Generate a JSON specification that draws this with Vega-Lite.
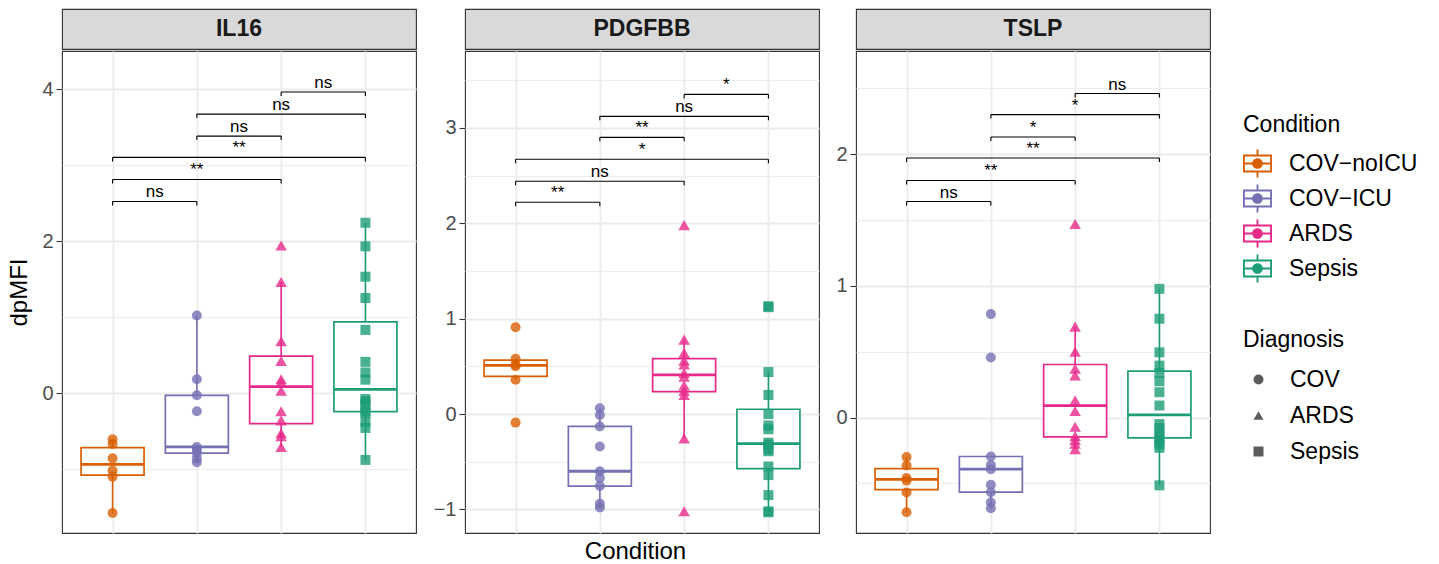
{
  "$schema": "https://vega.github.io/schema/vega-lite/v6.json",
  "padding": {"left": 7, "top": 8, "right": 5, "bottom": 5},
  "background": "white",
  "config": {
    "font": "Liberation Sans",
    "view": {"stroke": "#333333", "strokeWidth": 1.1},
    "axis": {"domain": false, "gridColor": "#EBEBEB", "gridWidth": 1.8, "labelColor": "#4D4D4D", "labelFontSize": 20, "tickColor": "#333333", "tickSize": 6, "tickWidth": 1.1, "labelPadding": 3, "labelOverlap": false, "titleFontSize": 24, "titleFontWeight": "normal", "titleColor": "#000000"},
    "legend": {"titleFontSize": 23, "titleFontWeight": "normal", "labelFontSize": 23, "titleColor": "#000000", "labelColor": "#000000"}
  },
  "datasets": {
    "pts": [
      {"m":"IL16","c":"COV-noICU","d":"COV","v":-0.61},{"m":"IL16","c":"COV-noICU","d":"COV","v":-0.67},{"m":"IL16","c":"COV-noICU","d":"COV","v":-0.86},{"m":"IL16","c":"COV-noICU","d":"COV","v":-1.02},{"m":"IL16","c":"COV-noICU","d":"COV","v":-1.10},{"m":"IL16","c":"COV-noICU","d":"COV","v":-1.58},
      {"m":"IL16","c":"COV-ICU","d":"COV","v":1.02},{"m":"IL16","c":"COV-ICU","d":"COV","v":0.18},{"m":"IL16","c":"COV-ICU","d":"COV","v":-0.03},{"m":"IL16","c":"COV-ICU","d":"COV","v":-0.24},{"m":"IL16","c":"COV-ICU","d":"COV","v":-0.71},{"m":"IL16","c":"COV-ICU","d":"COV","v":-0.745},{"m":"IL16","c":"COV-ICU","d":"COV","v":-0.79},{"m":"IL16","c":"COV-ICU","d":"COV","v":-0.86},{"m":"IL16","c":"COV-ICU","d":"COV","v":-0.91},
      {"m":"IL16","c":"ARDS","d":"ARDS","v":1.94},{"m":"IL16","c":"ARDS","d":"ARDS","v":1.46},{"m":"IL16","c":"ARDS","d":"ARDS","v":0.68},{"m":"IL16","c":"ARDS","d":"ARDS","v":0.42},{"m":"IL16","c":"ARDS","d":"ARDS","v":0.18},{"m":"IL16","c":"ARDS","d":"ARDS","v":0.14},{"m":"IL16","c":"ARDS","d":"ARDS","v":0.03},{"m":"IL16","c":"ARDS","d":"ARDS","v":-0.24},{"m":"IL16","c":"ARDS","d":"ARDS","v":-0.36},{"m":"IL16","c":"ARDS","d":"ARDS","v":-0.53},{"m":"IL16","c":"ARDS","d":"ARDS","v":-0.57},{"m":"IL16","c":"ARDS","d":"ARDS","v":-0.71},
      {"m":"IL16","c":"Sepsis","d":"Sepsis","v":2.24},{"m":"IL16","c":"Sepsis","d":"Sepsis","v":1.93},{"m":"IL16","c":"Sepsis","d":"Sepsis","v":1.53},{"m":"IL16","c":"Sepsis","d":"Sepsis","v":1.25},{"m":"IL16","c":"Sepsis","d":"Sepsis","v":0.83},{"m":"IL16","c":"Sepsis","d":"Sepsis","v":0.41},{"m":"IL16","c":"Sepsis","d":"Sepsis","v":0.27},{"m":"IL16","c":"Sepsis","d":"Sepsis","v":0.175},{"m":"IL16","c":"Sepsis","d":"Sepsis","v":-0.08},{"m":"IL16","c":"Sepsis","d":"Sepsis","v":-0.11},{"m":"IL16","c":"Sepsis","d":"Sepsis","v":-0.15},{"m":"IL16","c":"Sepsis","d":"Sepsis","v":-0.24},{"m":"IL16","c":"Sepsis","d":"Sepsis","v":-0.26},{"m":"IL16","c":"Sepsis","d":"Sepsis","v":-0.38},{"m":"IL16","c":"Sepsis","d":"Sepsis","v":-0.46},{"m":"IL16","c":"Sepsis","d":"Sepsis","v":-0.88},
      {"m":"PDGFBB","c":"COV-noICU","d":"COV","v":0.91},{"m":"PDGFBB","c":"COV-noICU","d":"COV","v":0.58},{"m":"PDGFBB","c":"COV-noICU","d":"COV","v":0.52},{"m":"PDGFBB","c":"COV-noICU","d":"COV","v":0.50},{"m":"PDGFBB","c":"COV-noICU","d":"COV","v":0.36},{"m":"PDGFBB","c":"COV-noICU","d":"COV","v":-0.09},
      {"m":"PDGFBB","c":"COV-ICU","d":"COV","v":0.06},{"m":"PDGFBB","c":"COV-ICU","d":"COV","v":-0.01},{"m":"PDGFBB","c":"COV-ICU","d":"COV","v":-0.13},{"m":"PDGFBB","c":"COV-ICU","d":"COV","v":-0.34},{"m":"PDGFBB","c":"COV-ICU","d":"COV","v":-0.60},{"m":"PDGFBB","c":"COV-ICU","d":"COV","v":-0.67},{"m":"PDGFBB","c":"COV-ICU","d":"COV","v":-0.755},{"m":"PDGFBB","c":"COV-ICU","d":"COV","v":-0.94},{"m":"PDGFBB","c":"COV-ICU","d":"COV","v":-0.98},
      {"m":"PDGFBB","c":"ARDS","d":"ARDS","v":1.98},{"m":"PDGFBB","c":"ARDS","d":"ARDS","v":0.78},{"m":"PDGFBB","c":"ARDS","d":"ARDS","v":0.64},{"m":"PDGFBB","c":"ARDS","d":"ARDS","v":0.56},{"m":"PDGFBB","c":"ARDS","d":"ARDS","v":0.52},{"m":"PDGFBB","c":"ARDS","d":"ARDS","v":0.43},{"m":"PDGFBB","c":"ARDS","d":"ARDS","v":0.39},{"m":"PDGFBB","c":"ARDS","d":"ARDS","v":0.30},{"m":"PDGFBB","c":"ARDS","d":"ARDS","v":0.245},{"m":"PDGFBB","c":"ARDS","d":"ARDS","v":0.20},{"m":"PDGFBB","c":"ARDS","d":"ARDS","v":-0.255},{"m":"PDGFBB","c":"ARDS","d":"ARDS","v":-1.02},
      {"m":"PDGFBB","c":"Sepsis","d":"Sepsis","v":1.13},{"m":"PDGFBB","c":"Sepsis","d":"Sepsis","v":1.12},{"m":"PDGFBB","c":"Sepsis","d":"Sepsis","v":0.44},{"m":"PDGFBB","c":"Sepsis","d":"Sepsis","v":0.20},{"m":"PDGFBB","c":"Sepsis","d":"Sepsis","v":0.0},{"m":"PDGFBB","c":"Sepsis","d":"Sepsis","v":-0.12},{"m":"PDGFBB","c":"Sepsis","d":"Sepsis","v":-0.16},{"m":"PDGFBB","c":"Sepsis","d":"Sepsis","v":-0.30},{"m":"PDGFBB","c":"Sepsis","d":"Sepsis","v":-0.32},{"m":"PDGFBB","c":"Sepsis","d":"Sepsis","v":-0.37},{"m":"PDGFBB","c":"Sepsis","d":"Sepsis","v":-0.39},{"m":"PDGFBB","c":"Sepsis","d":"Sepsis","v":-0.55},{"m":"PDGFBB","c":"Sepsis","d":"Sepsis","v":-0.64},{"m":"PDGFBB","c":"Sepsis","d":"Sepsis","v":-0.85},{"m":"PDGFBB","c":"Sepsis","d":"Sepsis","v":-1.02},{"m":"PDGFBB","c":"Sepsis","d":"Sepsis","v":-1.03},
      {"m":"TSLP","c":"COV-noICU","d":"COV","v":-0.30},{"m":"TSLP","c":"COV-noICU","d":"COV","v":-0.365},{"m":"TSLP","c":"COV-noICU","d":"COV","v":-0.46},{"m":"TSLP","c":"COV-noICU","d":"COV","v":-0.48},{"m":"TSLP","c":"COV-noICU","d":"COV","v":-0.57},{"m":"TSLP","c":"COV-noICU","d":"COV","v":-0.72},
      {"m":"TSLP","c":"COV-ICU","d":"COV","v":0.785},{"m":"TSLP","c":"COV-ICU","d":"COV","v":0.456},{"m":"TSLP","c":"COV-ICU","d":"COV","v":-0.296},{"m":"TSLP","c":"COV-ICU","d":"COV","v":-0.36},{"m":"TSLP","c":"COV-ICU","d":"COV","v":-0.392},{"m":"TSLP","c":"COV-ICU","d":"COV","v":-0.511},{"m":"TSLP","c":"COV-ICU","d":"COV","v":-0.567},{"m":"TSLP","c":"COV-ICU","d":"COV","v":-0.646},{"m":"TSLP","c":"COV-ICU","d":"COV","v":-0.689},
      {"m":"TSLP","c":"ARDS","d":"ARDS","v":1.47},{"m":"TSLP","c":"ARDS","d":"ARDS","v":0.69},{"m":"TSLP","c":"ARDS","d":"ARDS","v":0.50},{"m":"TSLP","c":"ARDS","d":"ARDS","v":0.37},{"m":"TSLP","c":"ARDS","d":"ARDS","v":0.32},{"m":"TSLP","c":"ARDS","d":"ARDS","v":0.13},{"m":"TSLP","c":"ARDS","d":"ARDS","v":0.05},{"m":"TSLP","c":"ARDS","d":"ARDS","v":-0.07},{"m":"TSLP","c":"ARDS","d":"ARDS","v":-0.14},{"m":"TSLP","c":"ARDS","d":"ARDS","v":-0.17},{"m":"TSLP","c":"ARDS","d":"ARDS","v":-0.20},{"m":"TSLP","c":"ARDS","d":"ARDS","v":-0.24},
      {"m":"TSLP","c":"Sepsis","d":"Sepsis","v":0.977},{"m":"TSLP","c":"Sepsis","d":"Sepsis","v":0.75},{"m":"TSLP","c":"Sepsis","d":"Sepsis","v":0.495},{"m":"TSLP","c":"Sepsis","d":"Sepsis","v":0.394},{"m":"TSLP","c":"Sepsis","d":"Sepsis","v":0.338},{"m":"TSLP","c":"Sepsis","d":"Sepsis","v":0.275},{"m":"TSLP","c":"Sepsis","d":"Sepsis","v":0.192},{"m":"TSLP","c":"Sepsis","d":"Sepsis","v":0.091},{"m":"TSLP","c":"Sepsis","d":"Sepsis","v":-0.05},{"m":"TSLP","c":"Sepsis","d":"Sepsis","v":-0.08},{"m":"TSLP","c":"Sepsis","d":"Sepsis","v":-0.12},{"m":"TSLP","c":"Sepsis","d":"Sepsis","v":-0.15},{"m":"TSLP","c":"Sepsis","d":"Sepsis","v":-0.17},{"m":"TSLP","c":"Sepsis","d":"Sepsis","v":-0.205},{"m":"TSLP","c":"Sepsis","d":"Sepsis","v":-0.23},{"m":"TSLP","c":"Sepsis","d":"Sepsis","v":-0.515}
    ],
    "br": [
      {"m":"IL16","x1":1,"x2":2,"yb":2.52,"lab":"ns"},{"m":"IL16","x1":1,"x2":3,"yb":2.81,"lab":"**"},{"m":"IL16","x1":1,"x2":4,"yb":3.10,"lab":"**"},{"m":"IL16","x1":2,"x2":3,"yb":3.38,"lab":"ns"},{"m":"IL16","x1":2,"x2":4,"yb":3.67,"lab":"ns"},{"m":"IL16","x1":3,"x2":4,"yb":3.96,"lab":"ns"},
      {"m":"PDGFBB","x1":1,"x2":2,"yb":2.22,"lab":"**"},{"m":"PDGFBB","x1":1,"x2":3,"yb":2.44,"lab":"ns"},{"m":"PDGFBB","x1":1,"x2":4,"yb":2.67,"lab":"*"},{"m":"PDGFBB","x1":2,"x2":3,"yb":2.90,"lab":"**"},{"m":"PDGFBB","x1":2,"x2":4,"yb":3.12,"lab":"ns"},{"m":"PDGFBB","x1":3,"x2":4,"yb":3.35,"lab":"*"},
      {"m":"TSLP","x1":1,"x2":2,"yb":1.64,"lab":"ns"},{"m":"TSLP","x1":1,"x2":3,"yb":1.80,"lab":"**"},{"m":"TSLP","x1":1,"x2":4,"yb":1.97,"lab":"**"},{"m":"TSLP","x1":2,"x2":3,"yb":2.13,"lab":"*"},{"m":"TSLP","x1":2,"x2":4,"yb":2.30,"lab":"*"},{"m":"TSLP","x1":3,"x2":4,"yb":2.46,"lab":"ns"}
    ]
  },
  "hconcat": [
    {
      "spacing": 0,
      "vconcat": [
        {"width": 354, "height": 40, "view": {"fill": "#D9D9D9", "stroke": "#333333", "strokeWidth": 1.1},
         "data": {"values": [{"t": "IL16"}]},
         "mark": {"type": "text", "fontSize": 23, "fontWeight": "bold", "color": "#1A1A1A"},
         "encoding": {"text": {"field": "t", "type": "nominal"}}},
        {"width": 354, "height": 482,
         "layer": [
           {"data": {"name": "pts"}, "transform": [{"filter": "datum.m == 'IL16'"}],
            "encoding": {"x": {"field": "c", "type": "nominal", "scale": {"type": "point", "padding": 0.6, "domain": ["COV-noICU","COV-ICU","ARDS","Sepsis"]}, "axis": {"labels": false, "ticks": false, "grid": true, "title": null}}},
            "layer": [
              {"transform": [{"joinaggregate": [{"op": "q1", "field": "v", "as": "q1"}, {"op": "q3", "field": "v", "as": "q3"}], "groupby": ["c"]},
                             {"filter": "datum.v >= datum.q1 - 1.5*(datum.q3-datum.q1) && datum.v <= datum.q3 + 1.5*(datum.q3-datum.q1)"},
                             {"aggregate": [{"op": "min", "field": "v", "as": "wlo"}, {"op": "max", "field": "v", "as": "whi"}], "groupby": ["c"]}],
               "mark": {"type": "rule", "strokeWidth": 1.6},
               "encoding": {"y": {"field": "wlo", "type": "quantitative", "scale": {"domain": [-1.842, 4.5], "nice": false, "zero": false}, "axis": {"title": "dpMFI", "titlePadding": 10, "values": [-1,0,1,2,3,4], "labelExpr": "datum.value % 2 == 0 ? format(datum.value, 'd') : ''", "gridWidth": {"condition": {"test": "datum.value % 2 != 0", "value": 0.9}, "value": 1.8}, "tickOpacity": {"condition": {"test": "datum.value % 2 != 0", "value": 0}, "value": 1}}},
                            "y2": {"field": "whi"},
                            "color": {"field": "c", "type": "nominal", "title": "Condition", "scale": {"domain": ["COV-noICU","COV-ICU","ARDS","Sepsis"], "range": ["#D95F02","#7570B3","#E7298A","#1B9E77"]}}}},
              {"mark": {"type": "bar", "size": 63, "filled": false, "fill": "white", "strokeWidth": 1.7},
               "encoding": {"y": {"aggregate": "q1", "field": "v", "type": "quantitative", "scale": {"domain": [-1.842, 4.5], "nice": false, "zero": false}, "axis": {"title": "dpMFI", "titlePadding": 10, "values": [-1,0,1,2,3,4], "labelExpr": "datum.value % 2 == 0 ? format(datum.value, 'd') : ''", "gridWidth": {"condition": {"test": "datum.value % 2 != 0", "value": 0.9}, "value": 1.8}, "tickOpacity": {"condition": {"test": "datum.value % 2 != 0", "value": 0}, "value": 1}}},
                            "y2": {"aggregate": "q3", "field": "v"},
                            "color": {"field": "c", "type": "nominal", "title": "Condition", "scale": {"domain": ["COV-noICU","COV-ICU","ARDS","Sepsis"], "range": ["#D95F02","#7570B3","#E7298A","#1B9E77"]}}}},
              {"mark": {"type": "tick", "size": 63, "thickness": 2.8},
               "encoding": {"y": {"aggregate": "median", "field": "v", "type": "quantitative", "scale": {"domain": [-1.842, 4.5], "nice": false, "zero": false}, "axis": {"title": "dpMFI", "titlePadding": 10, "values": [-1,0,1,2,3,4], "labelExpr": "datum.value % 2 == 0 ? format(datum.value, 'd') : ''", "gridWidth": {"condition": {"test": "datum.value % 2 != 0", "value": 0.9}, "value": 1.8}, "tickOpacity": {"condition": {"test": "datum.value % 2 != 0", "value": 0}, "value": 1}}},
                            "color": {"field": "c", "type": "nominal", "title": "Condition", "scale": {"domain": ["COV-noICU","COV-ICU","ARDS","Sepsis"], "range": ["#D95F02","#7570B3","#E7298A","#1B9E77"]}, "legend": {"orient": "none", "legendX": 1181, "legendY": 105, "symbolType": "M-1,-0.62H1V0.62H-1Z M-0.87,-0.49V0.49H0.87V-0.49Z M-0.87,-0.065H0.87V0.065H-0.87Z M-0.065,-0.97H0.065V-0.62H-0.065Z M-0.065,0.62H0.065V0.97H-0.065Z M-0.37,0A0.37,0.37,0,1,1,0.37,0A0.37,0.37,0,1,1,-0.37,0Z", "symbolSize": 841, "symbolStrokeWidth": 0, "symbolOpacity": 1, "labelOffset": 17, "rowPadding": 6, "titlePadding": 12, "labelExpr": "replace(datum.label, '-', '\u2212')"}}}},
              {"transform": [{"filter": "datum.d != 'ARDS'"}],
               "mark": {"type": "point", "filled": true, "opacity": 0.8, "strokeWidth": 0, "size": 100},
               "encoding": {"y": {"field": "v", "type": "quantitative", "scale": {"domain": [-1.842, 4.5], "nice": false, "zero": false}, "axis": {"title": "dpMFI", "titlePadding": 10, "values": [-1,0,1,2,3,4], "labelExpr": "datum.value % 2 == 0 ? format(datum.value, 'd') : ''", "gridWidth": {"condition": {"test": "datum.value % 2 != 0", "value": 0.9}, "value": 1.8}, "tickOpacity": {"condition": {"test": "datum.value % 2 != 0", "value": 0}, "value": 1}}},
                            "color": {"field": "c", "type": "nominal", "title": "Condition", "scale": {"domain": ["COV-noICU","COV-ICU","ARDS","Sepsis"], "range": ["#D95F02","#7570B3","#E7298A","#1B9E77"]}, "legend": {"orient": "none", "legendX": 1181, "legendY": 105, "symbolType": "M-1,-0.62H1V0.62H-1Z M-0.87,-0.49V0.49H0.87V-0.49Z M-0.87,-0.065H0.87V0.065H-0.87Z M-0.065,-0.97H0.065V-0.62H-0.065Z M-0.065,0.62H0.065V0.97H-0.065Z M-0.37,0A0.37,0.37,0,1,1,0.37,0A0.37,0.37,0,1,1,-0.37,0Z", "symbolSize": 841, "symbolStrokeWidth": 0, "symbolOpacity": 1, "labelOffset": 17, "rowPadding": 6, "titlePadding": 12, "labelExpr": "replace(datum.label, '-', '\u2212')"}},
                            "shape": {"field": "d", "type": "nominal", "title": "Diagnosis", "scale": {"domain": ["COV","ARDS","Sepsis"], "range": ["circle","triangle-up","square"]}, "legend": {"orient": "none", "legendX": 1181, "legendY": 320, "symbolSize": 100, "symbolFillColor": "#1A1A1A", "symbolStrokeWidth": 0, "symbolOpacity": 1, "symbolOffset": 4, "labelOffset": 20, "rowPadding": 12, "titlePadding": 16}}}},
              {"transform": [{"filter": "datum.d == 'ARDS'"}],
               "mark": {"type": "point", "filled": true, "opacity": 0.8, "strokeWidth": 0, "size": 135},
               "encoding": {"y": {"field": "v", "type": "quantitative", "scale": {"domain": [-1.842, 4.5], "nice": false, "zero": false}, "axis": {"title": "dpMFI", "titlePadding": 10, "values": [-1,0,1,2,3,4], "labelExpr": "datum.value % 2 == 0 ? format(datum.value, 'd') : ''", "gridWidth": {"condition": {"test": "datum.value % 2 != 0", "value": 0.9}, "value": 1.8}, "tickOpacity": {"condition": {"test": "datum.value % 2 != 0", "value": 0}, "value": 1}}},
                            "color": {"field": "c", "type": "nominal", "title": "Condition", "scale": {"domain": ["COV-noICU","COV-ICU","ARDS","Sepsis"], "range": ["#D95F02","#7570B3","#E7298A","#1B9E77"]}},
                            "shape": {"field": "d", "type": "nominal", "title": "Diagnosis", "scale": {"domain": ["COV","ARDS","Sepsis"], "range": ["circle","triangle-up","square"]}}}}
            ]},
           {"data": {"name": "br"}, "transform": [{"filter": "datum.m == 'IL16'"}, {"calculate": "(datum.x1+datum.x2)/2", "as": "xm"}],
            "encoding": {"y": {"field": "yb", "type": "quantitative", "scale": {"domain": [-1.842, 4.5], "nice": false, "zero": false}, "axis": {"title": "dpMFI", "titlePadding": 10, "values": [-1,0,1,2,3,4], "labelExpr": "datum.value % 2 == 0 ? format(datum.value, 'd') : ''", "gridWidth": {"condition": {"test": "datum.value % 2 != 0", "value": 0.9}, "value": 1.8}, "tickOpacity": {"condition": {"test": "datum.value % 2 != 0", "value": 0}, "value": 1}}}},
            "layer": [
              {"mark": {"type": "rule", "color": "#000000", "strokeWidth": 1.1}, "encoding": {"x": {"field": "x1", "type": "quantitative", "scale": {"domain": [0.4, 4.6], "nice": false, "zero": false}, "axis": null}, "x2": {"field": "x2"}}},
              {"mark": {"type": "rule", "color": "#000000", "strokeWidth": 1.1, "y2Offset": 4}, "encoding": {"x": {"field": "x1", "type": "quantitative", "scale": {"domain": [0.4, 4.6], "nice": false, "zero": false}, "axis": null}, "y2": {"field": "yb"}}},
              {"mark": {"type": "rule", "color": "#000000", "strokeWidth": 1.1, "y2Offset": 4}, "encoding": {"x": {"field": "x2", "type": "quantitative", "scale": {"domain": [0.4, 4.6], "nice": false, "zero": false}, "axis": null}, "y2": {"field": "yb"}}},
              {"mark": {"type": "text", "fontSize": 17, "baseline": "alphabetic", "dy": -4, "color": "#000000"}, "encoding": {"x": {"field": "xm", "type": "quantitative", "scale": {"domain": [0.4, 4.6], "nice": false, "zero": false}, "axis": null}, "text": {"field": "lab", "type": "nominal"}}}
            ]}
         ],
         "resolve": {"scale": {"x": "independent"}, "axis": {"x": "independent"}}}
      ]
    },
    {
      "spacing": 0,
      "vconcat": [
        {"width": 354, "height": 40, "view": {"fill": "#D9D9D9", "stroke": "#333333", "strokeWidth": 1.1},
         "data": {"values": [{"t": "PDGFBB"}]},
         "mark": {"type": "text", "fontSize": 23, "fontWeight": "bold", "color": "#1A1A1A"},
         "encoding": {"text": {"field": "t", "type": "nominal"}}},
        {"width": 354, "height": 482,
         "layer": [
           {"data": {"name": "pts"}, "transform": [{"filter": "datum.m == 'PDGFBB'"}],
            "encoding": {"x": {"field": "c", "type": "nominal", "scale": {"type": "point", "padding": 0.6, "domain": ["COV-noICU","COV-ICU","ARDS","Sepsis"]}, "axis": {"labels": false, "ticks": false, "grid": true, "title": "Condition", "titleX": 170, "titlePadding": 6}}},
            "layer": [
              {"transform": [{"joinaggregate": [{"op": "q1", "field": "v", "as": "q1"}, {"op": "q3", "field": "v", "as": "q3"}], "groupby": ["c"]},
                             {"filter": "datum.v >= datum.q1 - 1.5*(datum.q3-datum.q1) && datum.v <= datum.q3 + 1.5*(datum.q3-datum.q1)"},
                             {"aggregate": [{"op": "min", "field": "v", "as": "wlo"}, {"op": "max", "field": "v", "as": "whi"}], "groupby": ["c"]}],
               "mark": {"type": "rule", "strokeWidth": 1.6},
               "encoding": {"y": {"field": "wlo", "type": "quantitative", "scale": {"domain": [-1.247, 3.805], "nice": false, "zero": false}, "axis": {"title": null, "values": [-1,-0.5,0,0.5,1,1.5,2,2.5,3,3.5], "labelExpr": "datum.value % 1 == 0 ? format(datum.value, 'd') : ''", "gridWidth": {"condition": {"test": "datum.value % 1 != 0", "value": 0.9}, "value": 1.8}, "tickOpacity": {"condition": {"test": "datum.value % 1 != 0", "value": 0}, "value": 1}}},
                            "y2": {"field": "whi"},
                            "color": {"field": "c", "type": "nominal", "title": "Condition", "scale": {"domain": ["COV-noICU","COV-ICU","ARDS","Sepsis"], "range": ["#D95F02","#7570B3","#E7298A","#1B9E77"]}}}},
              {"mark": {"type": "bar", "size": 63, "filled": false, "fill": "white", "strokeWidth": 1.7},
               "encoding": {"y": {"aggregate": "q1", "field": "v", "type": "quantitative", "scale": {"domain": [-1.247, 3.805], "nice": false, "zero": false}, "axis": {"title": null, "values": [-1,-0.5,0,0.5,1,1.5,2,2.5,3,3.5], "labelExpr": "datum.value % 1 == 0 ? format(datum.value, 'd') : ''", "gridWidth": {"condition": {"test": "datum.value % 1 != 0", "value": 0.9}, "value": 1.8}, "tickOpacity": {"condition": {"test": "datum.value % 1 != 0", "value": 0}, "value": 1}}},
                            "y2": {"aggregate": "q3", "field": "v"},
                            "color": {"field": "c", "type": "nominal", "title": "Condition", "scale": {"domain": ["COV-noICU","COV-ICU","ARDS","Sepsis"], "range": ["#D95F02","#7570B3","#E7298A","#1B9E77"]}}}},
              {"mark": {"type": "tick", "size": 63, "thickness": 2.8},
               "encoding": {"y": {"aggregate": "median", "field": "v", "type": "quantitative", "scale": {"domain": [-1.247, 3.805], "nice": false, "zero": false}, "axis": {"title": null, "values": [-1,-0.5,0,0.5,1,1.5,2,2.5,3,3.5], "labelExpr": "datum.value % 1 == 0 ? format(datum.value, 'd') : ''", "gridWidth": {"condition": {"test": "datum.value % 1 != 0", "value": 0.9}, "value": 1.8}, "tickOpacity": {"condition": {"test": "datum.value % 1 != 0", "value": 0}, "value": 1}}},
                            "color": {"field": "c", "type": "nominal", "title": "Condition", "scale": {"domain": ["COV-noICU","COV-ICU","ARDS","Sepsis"], "range": ["#D95F02","#7570B3","#E7298A","#1B9E77"]}}}},
              {"transform": [{"filter": "datum.d != 'ARDS'"}],
               "mark": {"type": "point", "filled": true, "opacity": 0.8, "strokeWidth": 0, "size": 100},
               "encoding": {"y": {"field": "v", "type": "quantitative", "scale": {"domain": [-1.247, 3.805], "nice": false, "zero": false}, "axis": {"title": null, "values": [-1,-0.5,0,0.5,1,1.5,2,2.5,3,3.5], "labelExpr": "datum.value % 1 == 0 ? format(datum.value, 'd') : ''", "gridWidth": {"condition": {"test": "datum.value % 1 != 0", "value": 0.9}, "value": 1.8}, "tickOpacity": {"condition": {"test": "datum.value % 1 != 0", "value": 0}, "value": 1}}},
                            "color": {"field": "c", "type": "nominal", "title": "Condition", "scale": {"domain": ["COV-noICU","COV-ICU","ARDS","Sepsis"], "range": ["#D95F02","#7570B3","#E7298A","#1B9E77"]}},
                            "shape": {"field": "d", "type": "nominal", "title": "Diagnosis", "scale": {"domain": ["COV","ARDS","Sepsis"], "range": ["circle","triangle-up","square"]}}}},
              {"transform": [{"filter": "datum.d == 'ARDS'"}],
               "mark": {"type": "point", "filled": true, "opacity": 0.8, "strokeWidth": 0, "size": 135},
               "encoding": {"y": {"field": "v", "type": "quantitative", "scale": {"domain": [-1.247, 3.805], "nice": false, "zero": false}, "axis": {"title": null, "values": [-1,-0.5,0,0.5,1,1.5,2,2.5,3,3.5], "labelExpr": "datum.value % 1 == 0 ? format(datum.value, 'd') : ''", "gridWidth": {"condition": {"test": "datum.value % 1 != 0", "value": 0.9}, "value": 1.8}, "tickOpacity": {"condition": {"test": "datum.value % 1 != 0", "value": 0}, "value": 1}}},
                            "color": {"field": "c", "type": "nominal", "title": "Condition", "scale": {"domain": ["COV-noICU","COV-ICU","ARDS","Sepsis"], "range": ["#D95F02","#7570B3","#E7298A","#1B9E77"]}},
                            "shape": {"field": "d", "type": "nominal", "title": "Diagnosis", "scale": {"domain": ["COV","ARDS","Sepsis"], "range": ["circle","triangle-up","square"]}}}}
            ]},
           {"data": {"name": "br"}, "transform": [{"filter": "datum.m == 'PDGFBB'"}, {"calculate": "(datum.x1+datum.x2)/2", "as": "xm"}],
            "encoding": {"y": {"field": "yb", "type": "quantitative", "scale": {"domain": [-1.247, 3.805], "nice": false, "zero": false}, "axis": {"title": null, "values": [-1,-0.5,0,0.5,1,1.5,2,2.5,3,3.5], "labelExpr": "datum.value % 1 == 0 ? format(datum.value, 'd') : ''", "gridWidth": {"condition": {"test": "datum.value % 1 != 0", "value": 0.9}, "value": 1.8}, "tickOpacity": {"condition": {"test": "datum.value % 1 != 0", "value": 0}, "value": 1}}}},
            "layer": [
              {"mark": {"type": "rule", "color": "#000000", "strokeWidth": 1.1}, "encoding": {"x": {"field": "x1", "type": "quantitative", "scale": {"domain": [0.4, 4.6], "nice": false, "zero": false}, "axis": null}, "x2": {"field": "x2"}}},
              {"mark": {"type": "rule", "color": "#000000", "strokeWidth": 1.1, "y2Offset": 4}, "encoding": {"x": {"field": "x1", "type": "quantitative", "scale": {"domain": [0.4, 4.6], "nice": false, "zero": false}, "axis": null}, "y2": {"field": "yb"}}},
              {"mark": {"type": "rule", "color": "#000000", "strokeWidth": 1.1, "y2Offset": 4}, "encoding": {"x": {"field": "x2", "type": "quantitative", "scale": {"domain": [0.4, 4.6], "nice": false, "zero": false}, "axis": null}, "y2": {"field": "yb"}}},
              {"mark": {"type": "text", "fontSize": 17, "baseline": "alphabetic", "dy": -4, "color": "#000000"}, "encoding": {"x": {"field": "xm", "type": "quantitative", "scale": {"domain": [0.4, 4.6], "nice": false, "zero": false}, "axis": null}, "text": {"field": "lab", "type": "nominal"}}}
            ]}
         ],
         "resolve": {"scale": {"x": "independent"}, "axis": {"x": "independent"}}}
      ]
    },
    {
      "spacing": 0,
      "vconcat": [
        {"width": 354, "height": 40, "view": {"fill": "#D9D9D9", "stroke": "#333333", "strokeWidth": 1.1},
         "data": {"values": [{"t": "TSLP"}]},
         "mark": {"type": "text", "fontSize": 23, "fontWeight": "bold", "color": "#1A1A1A"},
         "encoding": {"text": {"field": "t", "type": "nominal"}}},
        {"width": 354, "height": 482,
         "layer": [
           {"data": {"name": "pts"}, "transform": [{"filter": "datum.m == 'TSLP'"}],
            "encoding": {"x": {"field": "c", "type": "nominal", "scale": {"type": "point", "padding": 0.6, "domain": ["COV-noICU","COV-ICU","ARDS","Sepsis"]}, "axis": {"labels": false, "ticks": false, "grid": true, "title": null}}},
            "layer": [
              {"transform": [{"joinaggregate": [{"op": "q1", "field": "v", "as": "q1"}, {"op": "q3", "field": "v", "as": "q3"}], "groupby": ["c"]},
                             {"filter": "datum.v >= datum.q1 - 1.5*(datum.q3-datum.q1) && datum.v <= datum.q3 + 1.5*(datum.q3-datum.q1)"},
                             {"aggregate": [{"op": "min", "field": "v", "as": "wlo"}, {"op": "max", "field": "v", "as": "whi"}], "groupby": ["c"]}],
               "mark": {"type": "rule", "strokeWidth": 1.6},
               "encoding": {"y": {"field": "wlo", "type": "quantitative", "scale": {"domain": [-0.877, 2.783], "nice": false, "zero": false}, "axis": {"title": null, "values": [-0.5,0,0.5,1,1.5,2,2.5], "labelExpr": "datum.value % 1 == 0 ? format(datum.value, 'd') : ''", "gridWidth": {"condition": {"test": "datum.value % 1 != 0", "value": 0.9}, "value": 1.8}, "tickOpacity": {"condition": {"test": "datum.value % 1 != 0", "value": 0}, "value": 1}}},
                            "y2": {"field": "whi"},
                            "color": {"field": "c", "type": "nominal", "title": "Condition", "scale": {"domain": ["COV-noICU","COV-ICU","ARDS","Sepsis"], "range": ["#D95F02","#7570B3","#E7298A","#1B9E77"]}}}},
              {"mark": {"type": "bar", "size": 63, "filled": false, "fill": "white", "strokeWidth": 1.7},
               "encoding": {"y": {"aggregate": "q1", "field": "v", "type": "quantitative", "scale": {"domain": [-0.877, 2.783], "nice": false, "zero": false}, "axis": {"title": null, "values": [-0.5,0,0.5,1,1.5,2,2.5], "labelExpr": "datum.value % 1 == 0 ? format(datum.value, 'd') : ''", "gridWidth": {"condition": {"test": "datum.value % 1 != 0", "value": 0.9}, "value": 1.8}, "tickOpacity": {"condition": {"test": "datum.value % 1 != 0", "value": 0}, "value": 1}}},
                            "y2": {"aggregate": "q3", "field": "v"},
                            "color": {"field": "c", "type": "nominal", "title": "Condition", "scale": {"domain": ["COV-noICU","COV-ICU","ARDS","Sepsis"], "range": ["#D95F02","#7570B3","#E7298A","#1B9E77"]}}}},
              {"mark": {"type": "tick", "size": 63, "thickness": 2.8},
               "encoding": {"y": {"aggregate": "median", "field": "v", "type": "quantitative", "scale": {"domain": [-0.877, 2.783], "nice": false, "zero": false}, "axis": {"title": null, "values": [-0.5,0,0.5,1,1.5,2,2.5], "labelExpr": "datum.value % 1 == 0 ? format(datum.value, 'd') : ''", "gridWidth": {"condition": {"test": "datum.value % 1 != 0", "value": 0.9}, "value": 1.8}, "tickOpacity": {"condition": {"test": "datum.value % 1 != 0", "value": 0}, "value": 1}}},
                            "color": {"field": "c", "type": "nominal", "title": "Condition", "scale": {"domain": ["COV-noICU","COV-ICU","ARDS","Sepsis"], "range": ["#D95F02","#7570B3","#E7298A","#1B9E77"]}}}},
              {"transform": [{"filter": "datum.d != 'ARDS'"}],
               "mark": {"type": "point", "filled": true, "opacity": 0.8, "strokeWidth": 0, "size": 100},
               "encoding": {"y": {"field": "v", "type": "quantitative", "scale": {"domain": [-0.877, 2.783], "nice": false, "zero": false}, "axis": {"title": null, "values": [-0.5,0,0.5,1,1.5,2,2.5], "labelExpr": "datum.value % 1 == 0 ? format(datum.value, 'd') : ''", "gridWidth": {"condition": {"test": "datum.value % 1 != 0", "value": 0.9}, "value": 1.8}, "tickOpacity": {"condition": {"test": "datum.value % 1 != 0", "value": 0}, "value": 1}}},
                            "color": {"field": "c", "type": "nominal", "title": "Condition", "scale": {"domain": ["COV-noICU","COV-ICU","ARDS","Sepsis"], "range": ["#D95F02","#7570B3","#E7298A","#1B9E77"]}},
                            "shape": {"field": "d", "type": "nominal", "title": "Diagnosis", "scale": {"domain": ["COV","ARDS","Sepsis"], "range": ["circle","triangle-up","square"]}}}},
              {"transform": [{"filter": "datum.d == 'ARDS'"}],
               "mark": {"type": "point", "filled": true, "opacity": 0.8, "strokeWidth": 0, "size": 135},
               "encoding": {"y": {"field": "v", "type": "quantitative", "scale": {"domain": [-0.877, 2.783], "nice": false, "zero": false}, "axis": {"title": null, "values": [-0.5,0,0.5,1,1.5,2,2.5], "labelExpr": "datum.value % 1 == 0 ? format(datum.value, 'd') : ''", "gridWidth": {"condition": {"test": "datum.value % 1 != 0", "value": 0.9}, "value": 1.8}, "tickOpacity": {"condition": {"test": "datum.value % 1 != 0", "value": 0}, "value": 1}}},
                            "color": {"field": "c", "type": "nominal", "title": "Condition", "scale": {"domain": ["COV-noICU","COV-ICU","ARDS","Sepsis"], "range": ["#D95F02","#7570B3","#E7298A","#1B9E77"]}},
                            "shape": {"field": "d", "type": "nominal", "title": "Diagnosis", "scale": {"domain": ["COV","ARDS","Sepsis"], "range": ["circle","triangle-up","square"]}}}}
            ]},
           {"data": {"name": "br"}, "transform": [{"filter": "datum.m == 'TSLP'"}, {"calculate": "(datum.x1+datum.x2)/2", "as": "xm"}],
            "encoding": {"y": {"field": "yb", "type": "quantitative", "scale": {"domain": [-0.877, 2.783], "nice": false, "zero": false}, "axis": {"title": null, "values": [-0.5,0,0.5,1,1.5,2,2.5], "labelExpr": "datum.value % 1 == 0 ? format(datum.value, 'd') : ''", "gridWidth": {"condition": {"test": "datum.value % 1 != 0", "value": 0.9}, "value": 1.8}, "tickOpacity": {"condition": {"test": "datum.value % 1 != 0", "value": 0}, "value": 1}}}},
            "layer": [
              {"mark": {"type": "rule", "color": "#000000", "strokeWidth": 1.1}, "encoding": {"x": {"field": "x1", "type": "quantitative", "scale": {"domain": [0.4, 4.6], "nice": false, "zero": false}, "axis": null}, "x2": {"field": "x2"}}},
              {"mark": {"type": "rule", "color": "#000000", "strokeWidth": 1.1, "y2Offset": 4}, "encoding": {"x": {"field": "x1", "type": "quantitative", "scale": {"domain": [0.4, 4.6], "nice": false, "zero": false}, "axis": null}, "y2": {"field": "yb"}}},
              {"mark": {"type": "rule", "color": "#000000", "strokeWidth": 1.1, "y2Offset": 4}, "encoding": {"x": {"field": "x2", "type": "quantitative", "scale": {"domain": [0.4, 4.6], "nice": false, "zero": false}, "axis": null}, "y2": {"field": "yb"}}},
              {"mark": {"type": "text", "fontSize": 17, "baseline": "alphabetic", "dy": -4, "color": "#000000"}, "encoding": {"x": {"field": "xm", "type": "quantitative", "scale": {"domain": [0.4, 4.6], "nice": false, "zero": false}, "axis": null}, "text": {"field": "lab", "type": "nominal"}}}
            ]}
         ],
         "resolve": {"scale": {"x": "independent"}, "axis": {"x": "independent"}}}
      ]
    }
  ],
  "spacing": 15,
  "resolve": {"scale": {"x": "independent", "y": "independent"}}
}
